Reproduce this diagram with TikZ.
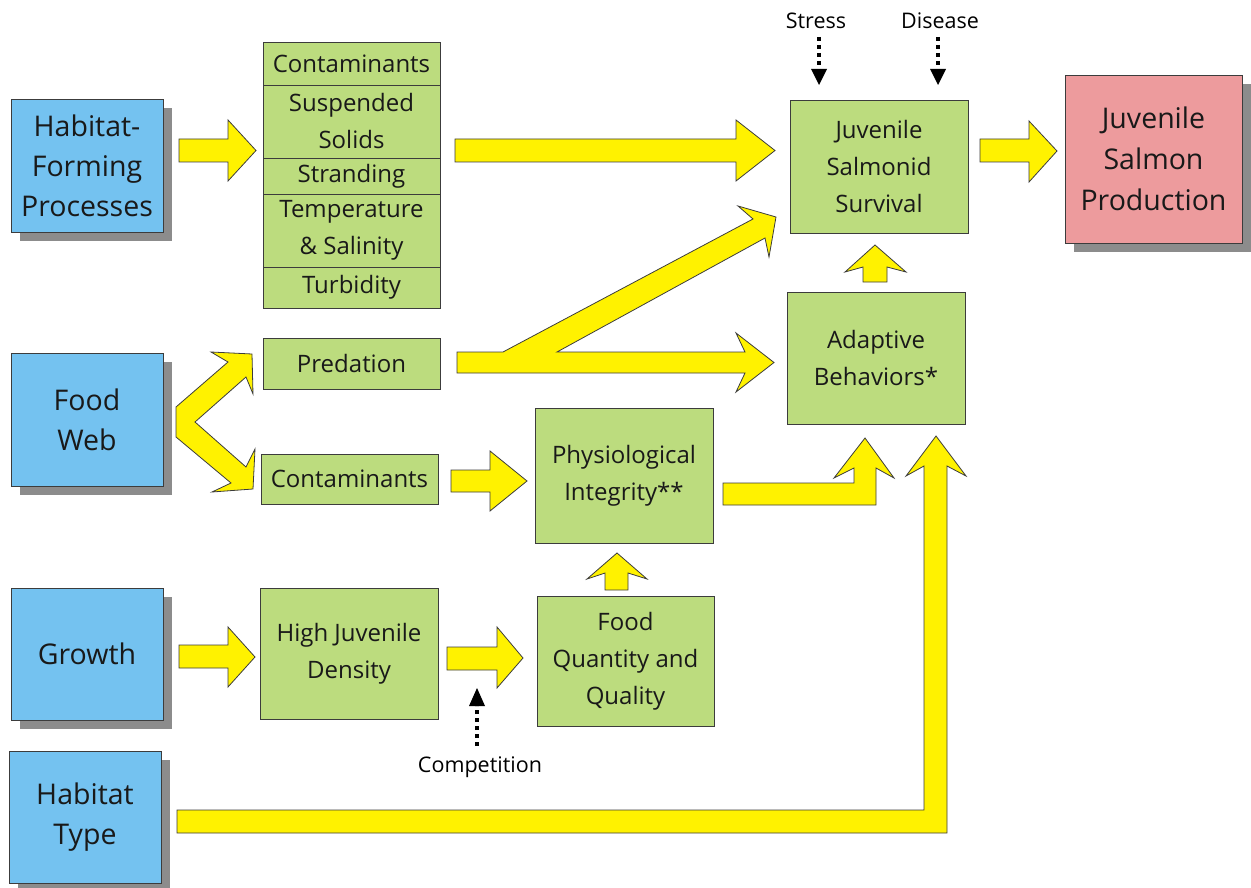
\documentclass[tikz,border=0pt]{standalone}
\usepackage{fontspec}
\setmainfont{Open Sans}
\usetikzlibrary{shadows,arrows.meta}
\definecolor{bluebox}{RGB}{116,194,240}
\definecolor{greenbox}{RGB}{188,220,126}
\definecolor{pinkbox}{RGB}{237,155,157}
\definecolor{yel}{RGB}{255,242,0}
\definecolor{shadowc}{RGB}{140,140,140}
\definecolor{edge}{RGB}{60,60,60}
\tikzset{
  boxbase/.style={draw=edge, line width=0.9pt, inner sep=0pt, align=center, text=black!90},
  shadowed/.style={drop shadow={shadow xshift=9pt, shadow yshift=-9pt, fill=shadowc, opacity=1}},
  bluenode/.style={boxbase, shadowed, fill=bluebox, minimum width=152pt, font=\fontsize{28.5}{40}\selectfont},
  greennode/.style={boxbase, fill=greenbox, minimum width=177pt, font=\fontsize{24}{37}\selectfont},
  pinknode/.style={boxbase, shadowed, fill=pinkbox, minimum width=177pt, minimum height=168pt, font=\fontsize{28.5}{41}\selectfont},
  blockarrow/.style={fill=yel, draw=edge, line width=0.8pt, line join=miter},
  dotarrow/.style={draw=black, line width=3.5pt, dash pattern=on 4pt off 4pt},
  dothead/.style={fill=black},
  smalllabel/.style={font=\fontsize{21.5}{24}\selectfont, inner sep=0pt}
}
\begin{document}
\begin{tikzpicture}[x=1pt,y=-1pt]
\useasboundingbox (0,0) rectangle (1251,888);

% blue boxes
\node[bluenode, minimum height=133pt] (hfp) at (87,165.5) {Habitat-\\Forming\\Processes};
\node[bluenode, minimum height=133pt] (fw) at (87,419.5) {Food\\Web};
\node[bluenode, minimum height=132pt] (gr) at (87,654) {Growth};
\node[bluenode, minimum height=132pt] (ht) at (85,817) {Habitat\\Type};

% green stack
\node[greennode, minimum height=43pt] (c1) at (351.5,63.5) {Contaminants};
\node[greennode, minimum height=73pt] (ss) at (351.5,121.5) {Suspended\\Solids};
\node[greennode, minimum height=36pt] (st) at (351.5,176) {Stranding};
\node[greennode, minimum height=73pt] (ts) at (351.5,230.5) {Temperature\\\& Salinity};
\node[greennode, minimum height=41pt] (tu) at (351.5,287.5) {Turbidity};

% other green boxes
\node[greennode, minimum height=51pt] (pred) at (351.5,363.5) {Predation};
\node[greennode, minimum height=50pt] (c2) at (349.5,479) {Contaminants};
\node[greennode, minimum width=178pt, minimum height=135pt] (phys) at (624,475.5) {Physiological\\Integrity**};
\node[greennode, minimum width=178pt, minimum height=131pt] (hjd) at (349,653.5) {High Juvenile\\Density};
\node[greennode, minimum height=130pt] (food) at (625.5,661) {Food\\Quantity and\\Quality};
\node[greennode, minimum width=178pt, minimum height=133pt] (surv) at (879,166.5) {Juvenile\\Salmonid\\Survival};
\node[greennode, minimum width=178pt, minimum height=132pt] (adap) at (876,358) {Adaptive\\Behaviors*};

% pink box
\node[pinknode] (prod) at (1153.5,159) {Juvenile\\Salmon\\Production};

% labels
\node[smalllabel] (stress) at (816,21) {Stress};
\node[smalllabel] (disease) at (940,21) {Disease};
\node[smalllabel] (comp) at (480,767) {Competition};

% dotted arrows
\coordinate (s1) at (819,37);
\coordinate (s2) at (819,69);
\coordinate (d1) at (938,37);
\coordinate (d2) at (938,69);
\coordinate (k1) at (477,746);
\coordinate (k2) at (477,706);
\draw[dotarrow] (s1) -- (s2);
\fill[dothead] (811,69) -- (827,69) -- (819,85) -- cycle;
\draw[dotarrow] (d1) -- (d2);
\fill[dothead] (930,69) -- (946,69) -- (938,85) -- cycle;
\draw[dotarrow] (k1) -- (k2);
\fill[dothead] (469,706) -- (485,706) -- (477,688) -- cycle;

% block arrows
% Habitat-Forming -> stack
\draw[blockarrow] (179,139) -- (228,139) -- (228,120) -- (256,150.5) -- (228,181) -- (228,162) -- (179,162) -- cycle;
% stack -> survival
\draw[blockarrow] (455,139) -- (736,139) -- (736,120) -- (775,150.5) -- (736,181) -- (736,162) -- (455,162) -- cycle;
% survival -> production
\draw[blockarrow] (980,139) -- (1029,139) -- (1029,121) -- (1057,151) -- (1029,182) -- (1029,162) -- (980,162) -- cycle;
% food web chevron
\draw[blockarrow] (176,407) -- (228,362) -- (211,352) -- (252,354) -- (253,394) -- (246,377) -- (195,422) -- (246,467) -- (255,449) -- (253,489) -- (212,492) -- (231,483) -- (176,437) -- cycle;
% predation branch arrow
\draw[blockarrow] (457,352) -- (503,352) -- (753,219) -- (738,206) -- (776,217) -- (769,257) -- (765,238) -- (557,352) -- (745,352) -- (736,333) -- (774,362.5) -- (736,392) -- (745,373) -- (457,373) -- cycle;
% contaminants -> physiological
\draw[blockarrow] (451,470) -- (490,470) -- (490,451) -- (527,481) -- (490,511) -- (490,492) -- (451,492) -- cycle;
% physiological -> adaptive
\draw[blockarrow] (723,483) -- (854,483) -- (854,468) -- (834,478) -- (865,438) -- (894,478) -- (876,468) -- (876,505) -- (723,505) -- cycle;
% habitat type -> adaptive
\draw[blockarrow] (177,810) -- (924,810) -- (924,466) -- (906,476) -- (936,436) -- (966,476) -- (947,466) -- (947,833) -- (177,833) -- cycle;
% adaptive -> survival
\draw[blockarrow] (863,282) -- (863,267) -- (845,272) -- (875,245) -- (906,272) -- (887,267) -- (887,282) -- cycle;
% food -> physiological
\draw[blockarrow] (605,590) -- (605,573) -- (587,579) -- (617,553) -- (647,579) -- (628,573) -- (628,590) -- cycle;
% growth -> high density
\draw[blockarrow] (179,645) -- (228,645) -- (228,627) -- (255,657) -- (228,687) -- (228,668) -- (179,668) -- cycle;
% high density -> food
\draw[blockarrow] (447,647) -- (497,647) -- (497,627) -- (523,658) -- (497,688) -- (497,670) -- (447,670) -- cycle;
\end{tikzpicture}
\end{document}
